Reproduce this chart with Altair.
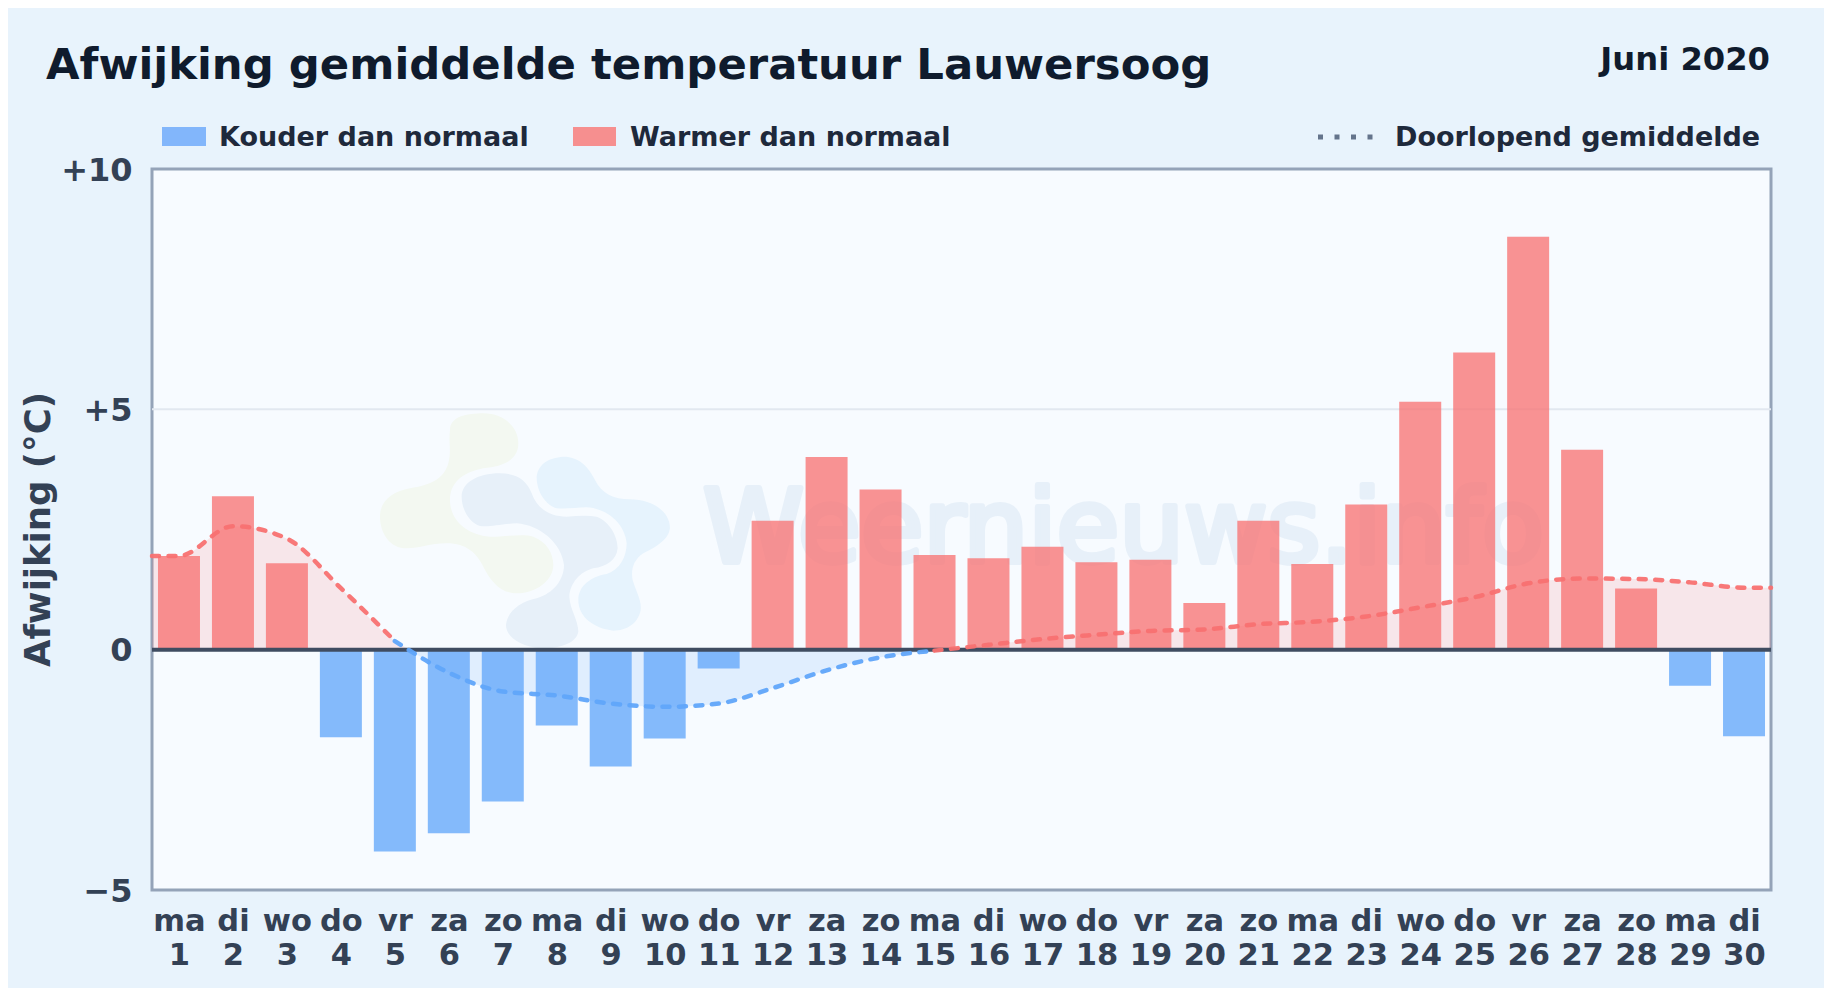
import altair as alt
import pandas as pd

days = list(range(1, 31))
weekdays = ["ma","di","wo","do","vr","za","zo","ma","di","wo","do","vr","za","zo","ma","di","wo","do","vr","za","zo","ma","di","wo","do","vr","za","zo","ma","di"]
deviation = [1.95,3.19,1.80,-1.82,-4.20,-3.82,-3.16,-1.58,-2.43,-1.85,-0.39,2.68,4.01,3.33,1.97,1.90,2.14,1.82,1.87,0.97,2.68,1.78,3.02,5.16,6.18,8.59,4.16,1.27,-0.75,-1.80]
kinds = ["Warm" if v > 0 else "Koud" for v in deviation]

warm1_x = [0.5,1,2,3,4,5]
warm1_y = [1.95,1.95,2.57,2.31,1.28,0.18]
cold_x = [5,6,7,8,9,10,11,12,13,14,15]
cold_y = [0.18,-0.48,-0.87,-0.955,-1.12,-1.19,-1.12,-0.80,-0.43,-0.16,-0.02]
warm2_x = [15,16,17,18,19,20,21,22,23,24,25,26,27,28,29,30,30.5]
warm2_y = [-0.02,0.10,0.22,0.31,0.39,0.42,0.53,0.58,0.69,0.88,1.09,1.38,1.48,1.47,1.40,1.29,1.29]

fill1_x = [0.5,1,2,3,4,5,5.27]
fill1_y = [1.95,1.95,2.57,2.31,1.28,0.18,0]
fill2_x = [5.27,6,7,8,9,10,11,12,13,14,15,15.17]
fill2_y = [0,-0.48,-0.87,-0.955,-1.12,-1.19,-1.12,-0.80,-0.43,-0.16,-0.02,0]
fill3_x = [15.17,16,17,18,19,20,21,22,23,24,25,26,27,28,29,30,30.5]
fill3_y = [0,0.10,0.22,0.31,0.39,0.42,0.53,0.58,0.69,0.88,1.09,1.38,1.48,1.47,1.40,1.29,1.29]

y_ticks = [-5, 0, 5, 10]
grid_values = [5]
PW, PH = 1619, 721
FONT = "DejaVu Sans"
INK = "#0f1b2d"
LEG = "#1e293b"
AX = "#334155"
RED = "#f87171"
BLUE = "#60a5fa"
PAGE = "#e8f3fc"

xs = alt.Scale(domain=[0.5, 30.5], nice=False, zero=False, padding=0)
ys = alt.Scale(domain=[-5, 10], nice=False, zero=False)

label_expr = "[split('" + ",".join(weekdays) + "', ',')[datum.value-1], '' + datum.value]"
x_axis = alt.Axis(
    values=days, labelExpr=label_expr, grid=False, ticks=False, domain=False, title=None,
    labelFont=FONT, labelFontWeight="bold", labelFontSize=30.5, labelColor=AX,
    labelPadding=16, labelLineHeight=34, labelOverlap=False, labelFlush=False, labelBound=False)
y_axis = alt.Axis(
    values=y_ticks, ticks=False, domain=False, grid=False,
    title="Afwijking (°C)",
    labelExpr="datum.value > 0 ? '+' + datum.value : (datum.value < 0 ? '−' + abs(datum.value) : '0')",
    labelFont=FONT, labelFontWeight="bold", labelFontSize=32, labelColor=AX, labelPadding=20, labelOffset=1,
    titleFont=FONT, titleFontWeight="bold", titleFontSize=35.5, titleColor=AX, titleX=-96, titleY=360,
    titleAnchor="middle", titleAlign="center", labelOverlap=False, labelFlush=False, labelBound=False)

one = pd.DataFrame({"a": [0]})

def txt(s, x, y, size, color, align="left", **kw):
    return alt.Chart(one).mark_text(text=s, font=FONT, fontWeight="bold", fontSize=size, color=color,
                                    align=align, baseline="alphabetic", **kw).encode(
        x=alt.value(x), y=alt.value(y))

def sw(x0, x1, y0, y1, color, op):
    return alt.Chart(one).mark_rect(color=color, opacity=op).encode(
        x=alt.value(x0), x2=alt.value(x1), y=alt.value(y0), y2=alt.value(y1))

def blob(path, color):
    return alt.Chart(one).mark_point(shape=path, filled=True, color=color, opacity=1, size=0.4444, strokeWidth=0).encode(
        x=alt.value(198), y=alt.value(211))

green = "M300 150C300 110 350 100 400 100C460 100 505 140 505 190C505 240 460 260 400 265C350 275 300 300 300 360C300 420 350 465 420 470C470 470 520 460 550 470C590 485 610 520 610 555C610 600 560 640 500 640C450 640 420 600 400 560C380 520 350 490 290 490C240 490 210 505 170 505C120 505 90 460 90 410C90 360 130 335 180 325C240 315 280 300 295 250C305 210 295 190 300 150Z"
centre = "M335 350C335 310 380 280 450 280C500 280 530 300 545 340C560 385 600 410 650 410C680 408 710 405 740 410C780 425 803 470 803 505C800 540 770 560 730 565C690 575 660 610 658 650C660 690 685 720 685 755C680 785 640 805 575 805C510 800 468 770 468 735C472 695 510 665 560 655C610 640 642 600 642 555C635 490 570 435 500 430C450 432 420 442 390 438C360 430 335 390 335 350Z"
light = "M560 290C565 250 600 230 650 230C690 235 715 260 735 300C755 340 790 358 840 358C900 358 960 390 960 445C955 480 920 500 880 520C850 540 842 570 848 600C860 640 875 660 872 690C865 730 830 752 790 752C730 745 685 710 685 660C685 620 720 590 770 582C810 570 830 530 830 490C825 430 770 385 710 382C680 382 650 388 620 385C590 375 560 340 560 290Z"

grid_rule = alt.Chart(pd.DataFrame({"g": grid_values})).mark_rule(color="#e2e8f0", strokeWidth=2).encode(
    y=alt.Y("g:Q", scale=ys, axis=y_axis))

watermark = alt.layer(
    blob(green, "#f3f8f1"), blob(centre, "#e7f0f9"), blob(light, "#e6f3fd"),
    alt.Chart(one).mark_text(text="Weernieuws.info", font=FONT, fontWeight="normal", fontSize=102, color="#e7f0f9",
                             stroke="#e7f0f9", strokeWidth=6, strokeJoin="round", align="left", baseline="alphabetic").encode(x=alt.value(551), y=alt.value(393)),
)

def area(x, y, color):
    df = pd.DataFrame({"x": x, "y": y})
    return alt.Chart(df).mark_area(color=color, opacity=0.15, interpolate="monotone", line=False).encode(
        x=alt.X("x:Q", scale=xs, axis=x_axis),
        y=alt.Y("y:Q", scale=ys, axis=y_axis, stack=None),
        y2=alt.Y2(datum=0))

def line(x, y, color):
    df = pd.DataFrame({"x": x, "y": y})
    return alt.Chart(df).mark_line(color=color, strokeWidth=4.5, strokeDash=[7, 9.5], strokeCap="round",
                                   interpolate="monotone", opacity=0.95).encode(
        x=alt.X("x:Q", scale=xs, axis=x_axis),
        y=alt.Y("y:Q", scale=ys, axis=y_axis))

bars_df = pd.DataFrame({"day": days, "wd": weekdays, "dev": deviation, "kind": kinds})

bars = alt.Chart(bars_df).mark_bar(width=42, opacity=0.76, strokeWidth=0).encode(
    x=alt.X("day:Q", scale=xs, axis=x_axis),
    y=alt.Y("dev:Q", scale=ys, stack=None, axis=y_axis),
    color=alt.Color("kind:N", scale=alt.Scale(domain=["Koud", "Warm"], range=[BLUE, RED]), legend=None),
)

zero = alt.Chart(pd.DataFrame({"z": [0]})).mark_rule(color="#3f4c61", strokeWidth=4).encode(
    y=alt.Y("z:Q", scale=ys, axis=y_axis))

dots = alt.Chart(one).mark_rule(color="#64748b", strokeWidth=5, strokeDash=[5, 11.5]).encode(
    x=alt.value(1166), x2=alt.value(1222), y=alt.value(-32))

chart = alt.layer(
    grid_rule, watermark,
    area(fill1_x, fill1_y, RED), area(fill2_x, fill2_y, BLUE), area(fill3_x, fill3_y, RED),
    bars, zero,
    line(warm1_x, warm1_y, RED), line(cold_x, cold_y, BLUE), line(warm2_x, warm2_y, RED),
    txt("Afwijking gemiddelde temperatuur Lauwersoog", -106, -90, 43.35, INK),
    txt("Juni 2020", 1618, -99, 32.2, INK, align="right"),
    sw(10, 54, -42, -23, "#82b6fb", 1), txt("Kouder dan normaal", 67, -23, 27, LEG),
    sw(421, 464, -42, -23, "#f68f8f", 1), txt("Warmer dan normaal", 478, -23, 27, LEG),
    dots, txt("Doorlopend gemiddelde", 1243, -23, 27, LEG),
).properties(
    width=PW, height=PH,
    background=PAGE,
    autosize=alt.AutoSizeParams(type="none"),
    padding={"left": 144, "top": 161, "right": 53, "bottom": 98},
).configure_view(stroke="#94a3b8", strokeWidth=3, fill="#f7fbff")

chart.save("out.html", embed_options={"renderer": "svg", "actions": False})
